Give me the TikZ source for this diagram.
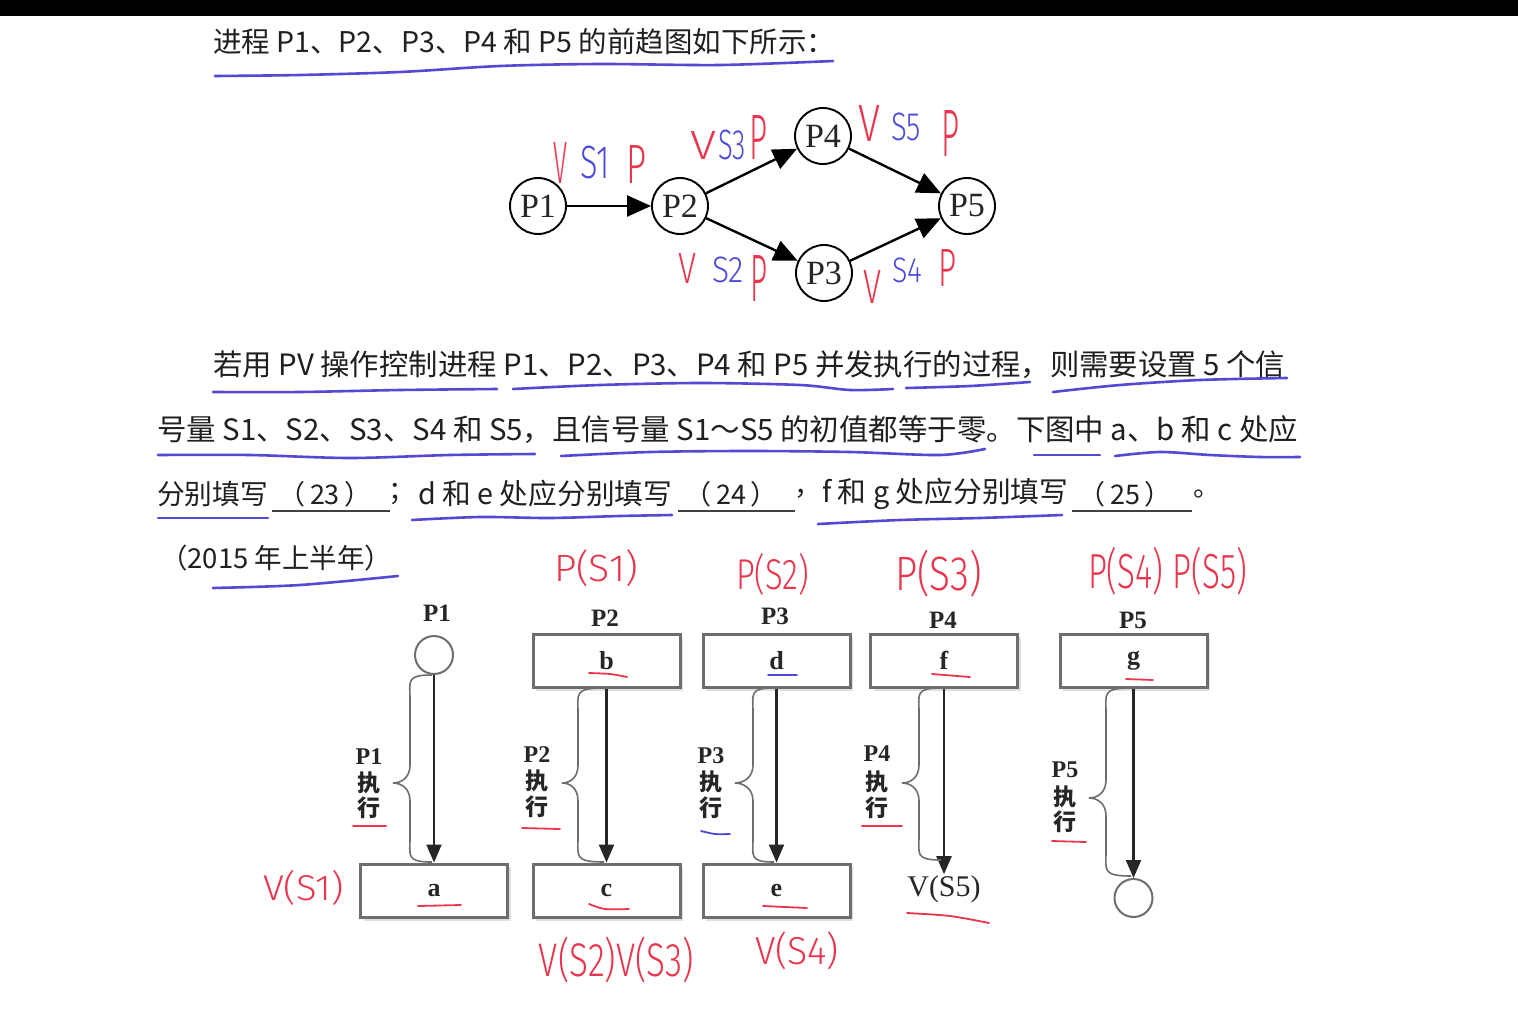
\documentclass[tikz,border=0pt]{standalone}
\usepackage{fontspec}
\usepackage{graphicx}
\usetikzlibrary{arrows.meta}
\setmainfont{Liberation Serif}
\newfontfamily\cjk{Noto Sans CJK SC}
\newfontfamily\hwfont{Fira Sans Light}
\definecolor{hwred}{HTML}{E8364F}
\definecolor{hwblue}{HTML}{4B4BD8}
\definecolor{ulblue}{HTML}{5548D2}
\definecolor{boxgray}{HTML}{6E6E6E}
\definecolor{txtc}{HTML}{202020}
\newcommand\hwt[4]{{\color{#1}\hwfont\fontsize{20}{22}\selectfont\resizebox*{#2pt}{#3pt}{#4}}}
\newcommand\mybrace[6]{% x0, xv, xt, ytop, ymid, ybot
  \draw[bracestyle] (#1,#4) .. controls (#2-4,#4) and (#2,#4+6) .. (#2,#4+24)
    -- (#2,#5-18) .. controls (#2,#5-5) and (#3+8,#5) .. (#3,#5)
    .. controls (#3+8,#5) and (#2,#5+5) .. (#2,#5+18)
    -- (#2,#6-24) .. controls (#2,#6-6) and (#2-4,#6) .. (#1,#6);}
\tikzset{
  maintext/.style={font=\cjk\fontsize{27}{30}\selectfont, text=txtc, inner sep=0, anchor=west},
  gnode/.style={circle, draw=black, line width=1.9pt, minimum size=56pt, inner sep=0,
    font=\fontsize{34}{34}\selectfont, text=black!85},
  garrow/.style={-{Triangle[length=24pt,width=21pt]}, line width=2.4pt, black},
  pbox/.style={draw=boxgray, line width=3pt, minimum width=147pt, minimum height=53pt,
    fill=white, inner sep=0, font=\bfseries\fontsize{26}{26}\selectfont, text=black!85},
  pcirc/.style={circle, draw=boxgray, line width=2pt, minimum size=38pt, inner sep=0, fill=white},
  darrow/.style={-{Triangle[length=18pt,width=15pt]}, line width=2.2pt, black!85},
  bracestyle/.style={line width=1.6pt, boxgray},
  blab/.style={font=\bfseries\fontsize{25}{25}\selectfont, text=black!85, inner sep=0},
  slab/.style={font=\bfseries\fontsize{24}{24}\selectfont, text=black!85, inner sep=0},
  cjlab/.style={font=\cjk\bfseries\fontsize{23}{23}\selectfont, text=black!85, inner sep=0},
  hw/.style={inner sep=0},
  ul/.style={ulblue, line width=2.6pt, line cap=round},
  rul/.style={hwred, line width=1.8pt, line cap=round},
  bul/.style={hwblue, line width=1.8pt, line cap=round},
  blank/.style={black!75, line width=2.4pt},
}
\begin{document}
\begin{tikzpicture}[x=1pt,y=-1pt]
\fill[white] (0,0) rectangle (1518,1020);
\fill[black] (0,0) rectangle (1518,16);
\useasboundingbox (0,0) rectangle (1518,1020);

% ---------- text lines ----------
\node[maintext] (l1) at (213,42) {\resizebox{622pt}{!}{进程 P1、P2、P3、P4 和 P5 的前趋图如下所示：}};
\draw[ul] plot[smooth] coordinates {(215,76) (300,75) (400,72) (500,66) (600,64) (720,65) (833,61)};

\node[maintext] (l2) at (213,365) {\resizebox{1072pt}{!}{若用 PV 操作控制进程 P1、P2、P3、P4 和 P5 并发执行的过程，则需要设置 5 个信}};
\node[maintext] (l3) at (157,430) {\resizebox{1141pt}{!}{号量 S1、S2、S3、S4 和 S5，且信号量 S1～S5 的初值都等于零。下图中 a、b 和 c 处应}};
\node[maintext] (l4a) at (157,494) {\resizebox{111pt}{!}{分别填写}};
\node[maintext, anchor=center] (l4b) at (325,494) {（\hspace{5pt}23\hspace{5pt}）};
\node[maintext] (l4c) at (388,494) {；};
\node[maintext] (l4d) at (418,494) {\resizebox{254pt}{!}{d 和 e 处应分别填写}};
\node[maintext, anchor=center] (l4e) at (731,494) {（\hspace{5pt}24\hspace{5pt}）};
\node[maintext] (l4f) at (794,494) {，};
\node[maintext] (l4g) at (822,494) {\resizebox{246pt}{!}{f 和 g 处应分别填写}};
\node[maintext, anchor=center] (l4h) at (1125,494) {（\hspace{5pt}25\hspace{5pt}）};
\node[maintext] (l4i) at (1193,494) {。};
\node[maintext] (l5) at (160,558) {\resizebox{232pt}{!}{（2015 年上半年）}};

\draw[blank] (272,511) -- (390,511);
\draw[blank] (678,511) -- (795,511);
\draw[blank] (1072,511) -- (1192,511);

% blue underlines of the paragraph
\draw[ul] plot[smooth] coordinates {(213,392) (300,392) (400,390) (497,389)};
\draw[ul] plot[smooth] coordinates {(513,389) (600,385) (700,383) (800,385) (850,390) (893,389)};
\draw[ul] plot[smooth] coordinates {(906,388) (970,386) (1030,382)};
\draw[ul] plot[smooth] coordinates {(1053,392) (1120,385) (1200,380) (1287,378)};
\draw[ul] plot[smooth] coordinates {(158,455) (250,455) (350,458) (450,455) (535,454)};
\draw[ul] plot[smooth] coordinates {(561,456) (650,452) (750,451) (850,452) (940,455) (985,449)};
\draw[ul] (1034,455) -- (1100,455);
\draw[ul] plot[smooth] coordinates {(1115,456) (1160,452) (1210,455) (1260,457) (1300,457)};
\draw[ul] (158,518) -- (268,518);
\draw[ul] plot[smooth] coordinates {(412,520) (480,517) (550,518) (620,516) (672,515)};
\draw[ul] plot[smooth] coordinates {(818,524) (900,520) (980,518) (1062,515)};
\draw[ul] plot[smooth] coordinates {(213,588) (300,585) (398,576)};

% ---------- precedence graph ----------
\node[gnode] (g1) at (538,206) {P1};
\node[gnode] (g2) at (680,206) {P2};
\node[gnode] (g4) at (823,136) {P4};
\node[gnode] (g3) at (824,273) {P3};
\node[gnode] (g5) at (967,206) {P5};
\draw[garrow] (g1) -- (g2);
\draw[garrow] (g2) -- (g4);
\draw[garrow] (g2) -- (g3);
\draw[garrow] (g4) -- (g5);
\draw[garrow] (g3) -- (g5);

\node[hw] (h1) at (560,163) {\hwt{hwred}{14}{41}{V}};
\node[hw] (h2) at (595,163) {\hwt{hwblue}{30}{33}{S1}};
\node[hw] (h3) at (636,164) {\hwt{hwred}{20}{38}{P}};
\node[hw] (h4) at (703,145) {\hwt{hwred}{26}{28}{V}};
\node[hw] (h5) at (732,145) {\hwt{hwblue}{28}{30}{S3}};
\node[hw] (h6) at (758,137) {\hwt{hwred}{18}{44}{P}};
\node[hw] (h7) at (869,123) {\hwt{hwred}{22}{36}{V}};
\node[hw] (h8) at (906,127) {\hwt{hwblue}{30}{28}{S5}};
\node[hw] (h9) at (950,133) {\hwt{hwred}{18}{46}{P}};
\node[hw] (h10) at (687,268) {\hwt{hwred}{18}{30}{V}};
\node[hw] (h11) at (728,270) {\hwt{hwblue}{32}{26}{S2}};
\node[hw] (h12) at (759,278) {\hwt{hwred}{17}{46}{P}};
\node[hw] (h13) at (872,287) {\hwt{hwred}{18}{33}{V}};
\node[hw] (h14) at (907,270) {\hwt{hwblue}{30}{25}{S4}};
\node[hw] (h15) at (947,268) {\hwt{hwred}{18}{37}{P}};

% ---------- process diagram ----------
\node[blab] (t1) at (437,613) {P1};
\node[blab] (t2) at (605,618) {P2};
\node[blab] (t3) at (775,616) {P3};
\node[blab] (t4) at (943,620) {P4};
\node[blab] (t5) at (1133,620) {P5};

\foreach \cx/\cy in {606.5/660.5, 776.5/660.5, 944/660.5, 1133.5/660.5, 434/890.5, 606.5/890.5, 776.5/890.5}
  \fill[black!12] (\cx-70.5,\cy-23.5) rectangle (\cx+76.5,\cy+30.5);

\node[pcirc] (c1) at (434,655) {};
\node[pbox] (b) at (606.5,660.5) {b};
\node[pbox] (d) at (776.5,660.5) {d};
\node[pbox] (f) at (944,660.5) {f};
\node[pbox] (g) at (1133.5,660.5) {g};
\node[pbox] (a) at (434,890.5) {a};
\node[pbox] (c) at (606.5,890.5) {c};
\node[pbox] (e) at (776.5,890.5) {e};
\node[inner sep=1pt, font=\fontsize{30}{30}\selectfont, text=black!85] (v5) at (944,889) {V(S5)};
\node[pcirc] (c5) at (1133.5,898) {};

\draw[darrow] (c1) -- (a);
\draw[darrow] (b) -- (c);
\draw[darrow] (d) -- (e);
\draw[darrow] (f) -- (v5);
\draw[darrow] (g) -- (c5);

\mybrace{432}{410}{393}{675}{783}{862}
\mybrace{604}{578}{562}{688}{783}{862}
\mybrace{774}{753}{735}{688}{783}{862}
\mybrace{941}{919}{902}{688}{783}{860}
\mybrace{1131}{1106}{1089}{688}{798}{876}

\node[slab] (p1a) at (369,757) {P1};
\node[cjlab] (p1b) at (369,783) {执};
\node[cjlab] (p1c) at (369,808) {行};
\node[slab] (p2a) at (537,755) {P2};
\node[cjlab] (p2b) at (537,781) {执};
\node[cjlab] (p2c) at (537,807) {行};
\node[slab] (p3a) at (711,756) {P3};
\node[cjlab] (p3b) at (711,782) {执};
\node[cjlab] (p3c) at (711,808) {行};
\node[slab] (p4a) at (877,754) {P4};
\node[cjlab] (p4b) at (877,782) {执};
\node[cjlab] (p4c) at (877,808) {行};
\node[slab] (p5a) at (1065,770) {P5};
\node[cjlab] (p5b) at (1065,797) {执};
\node[cjlab] (p5c) at (1065,822) {行};

% red / blue hand underlines
\draw[rul] (353,826) -- (386,826);
\draw[rul] (522,828) -- (560,829);
\draw[bul] plot[smooth] coordinates {(701,831) (715,834) (730,834)};
\draw[rul] (862,826) -- (902,826);
\draw[rul] (1052,841) -- (1086,842);
\draw[rul] plot[smooth] coordinates {(589,673) (610,674) (627,677)};
\draw[bul] (768,675) -- (797,675);
\draw[rul] (418,906) -- (461,905);
\draw[rul] plot[smooth] coordinates {(589,904) (605,909) (629,909)};
\draw[rul] (763,906) -- (807,908);
\draw[rul] (932,674) -- (970,677);
\draw[rul] (1126,679) -- (1153,680);
\draw[rul] plot[smooth] coordinates {(907,913) (950,916) (989,923)};

% red handwriting
\node[hw] (r1) at (596,568.5) {\hwt{hwred}{84}{37}{P(S1)}};
\node[hw] (r2) at (772.5,574) {\hwt{hwred}{73}{42}{P(S2)}};
\node[hw] (r3) at (938.5,573.5) {\hwt{hwred}{87}{47}{P(S3)}};
\node[hw] (r4) at (1167.5,571) {\hwt{hwred}{159}{48}{P(S4) P(S5)}};
\node[hw] (r5) at (303.5,887.5) {\hwt{hwred}{81}{35}{V(S1)}};
\node[hw] (r6) at (616.5,960) {\hwt{hwred}{155}{46}{V(S2)V(S3)}};
\node[hw] (r7) at (797,951) {\hwt{hwred}{84}{38}{V(S4)}};
\end{tikzpicture}
\end{document}
